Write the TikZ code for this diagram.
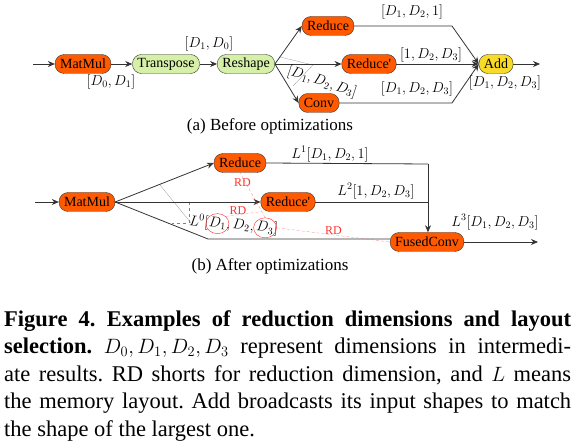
\documentclass[tikz,border=0pt]{standalone}
\usepackage{fontspec}
\setmainfont{Liberation Serif}
\usetikzlibrary{arrows.meta,positioning,shapes.geometric}
\definecolor{opred}{RGB}{255,90,0}
\definecolor{opgreen}{RGB}{214,240,168}
\definecolor{opyellow}{RGB}{248,218,40}
\begin{document}
\begin{tikzpicture}[x = 1pt, y = -1pt,
  op/.style = {draw = black!80, rounded corners = 9pt, minimum height = 19pt,
               inner xsep = 5pt, inner ysep = 0pt, font = \fontsize{14}{16}\selectfont},
  flow/.style = {thick, black!80, -{Stealth[length = 7pt, width = 6pt]}},
  wire/.style = {thick, black!80},
  dim/.style = {font = \fontsize{14}{16}\selectfont, inner sep = 1pt},
  piece/.style = {font = \fontsize{14}{16}\selectfont, inner sep = 0pt, rotate = -5},
  ring/.style = {draw = red!85, ellipse, thin, minimum width = 23pt, minimum height = 20pt},
  rd/.style = {red!60, densely dashed, very thin},
  rdlab/.style = {text = red!80, font = \fontsize{12}{14}\selectfont, inner sep = 0.5pt},
  guide/.style = {gray, very thin},
  sub/.style = {font = \fontsize{17}{20}\selectfont, inner sep = 0pt}]
\useasboundingbox (0, 0) rectangle (576, 446);

% (a) before optimizations
\draw (83, 64) node[op, fill = opred] (mm) {MatMul};
\draw (166, 64) node[op, fill = opgreen] (tr) {Transpose};
\draw (246, 64) node[op, fill = opgreen] (rs) {Reshape};
\draw (328, 26) node[op, fill = opred] (red) {Reduce};
\draw (369, 64) node[op, fill = opred] (redp) {Reduce\textquotesingle};
\draw (319, 103) node[op, fill = opred] (conv) {Conv};
\draw (496, 64) node[op, fill = opyellow] (add) {Add};
\coordinate (ina) at (33, 64);
\coordinate (outa) at (540, 64);
\coordinate (ja1) at (452, 26);
\coordinate (ja2) at (452, 103);
\draw [guide] (280, 57) -- (313, 65) -- (293, 86);
\draw [flow] (ina) to (mm);
\draw [flow] (mm) to (tr);
\draw [flow] (tr) to (rs);
\draw [flow] (rs.east) to (red.west);
\draw [flow] (rs) to (redp);
\draw [flow] (rs.east) to (conv.west);
\draw [flow] (red.east) -- (ja1) -- (add.west);
\draw [flow] (redp) to (add);
\draw [flow] (conv.east) -- (ja2) -- (add.west);
\draw [flow] (add) to (outa);
\node[dim] (dmm) at (111, 82) {$[D_0, D_1]$};
\node[dim] (dtr) at (209, 44) {$[D_1, D_0]$};
\node[dim, rotate = -18] (drs) at (322, 82) {$[D_1, D_2, D_3]$};
\node[dim] (dred) at (412, 12) {$[D_1, D_2, 1]$};
\node[dim] (dredp) at (431, 55) {$[1, D_2, D_3]$};
\node[dim] (dconv) at (417, 89) {$[D_1, D_2, D_3]$};
\node[dim] (dadd) at (505, 83) {$[D_1, D_2, D_3]$};
\node[sub] (capa) at (270, 126) {(a) Before optimizations};

% (b) after optimizations
\draw (87, 202) node[op, fill = opred] (mmb) {MatMul};
\draw (240, 163) node[op, fill = opred] (redb) {Reduce};
\draw (288, 202) node[op, fill = opred] (redpb) {Reduce\textquotesingle};
\draw (427, 242) node[op, fill = opred] (fconv) {FusedConv};
\coordinate (inb) at (35, 202);
\coordinate (outb) at (538, 242);
\coordinate (jb0) at (208, 239);
\coordinate (jb1) at (428, 164);
\coordinate (jb2) at (428, 202);
\draw [guide] (160, 185) -- (191, 223);
\draw [guide, dashed] (189, 202) -- (189, 223) -- (172, 223);
\draw [flow] (inb) to (mmb);
\draw [flow] (mmb.east) to (redb.west);
\draw [flow] (mmb) to (redpb);
\draw [wire] (mmb.east) -- (jb0) -- (fconv.west |- jb0);
\draw [wire] (redb.east) -- (jb1);
\draw [wire] (redpb.east) -- (jb2);
\draw [flow] (jb1) to (fconv.north -| jb1);
\draw [flow] (fconv) to (outb);
\node[dim] (l1) at (330, 154) {$L^1[D_1, D_2, 1]$};
\node[dim] (l2) at (376, 191) {$L^2[1, D_2, D_3]$};
\node[dim] (l3) at (495, 222) {$L^3[D_1, D_2, D_3]$};
\node[piece, anchor = base west] (l0a) at (189, 225) {$L^0[$};
\node[piece, base right = 0pt of l0a] (d1) {$D_1$};
\node[piece, base right = 0pt of d1] (l0b) {$,D_2,\,$};
\node[piece, base right = 0pt of l0b] (d3) {$D_3$};
\node[piece, base right = 0pt of d3] (l0c) {$]$};
\node[ring] (rd1) at (d1) {};
\node[ring] (rd3) at (d3) {};
\draw [rd] (rd1.north east) -- node[rdlab, above, pos = .35] {RD} (redpb.south west);
\draw [rd] (rd3.north) -- node[rdlab, pos = .78, xshift = -3pt] {RD} (redb.south);
\draw [rd] (rd3.east) -- node[rdlab, above, pos = .5] {RD} (fconv.west);
\node[sub] (capb) at (270, 266) {(b) After optimizations};

% caption
\node[anchor = north west, inner sep = 0pt, text width = 567pt, align = justify,
      font = \fontsize{22.5}{27.5}\selectfont\frenchspacing] (cap) at (4, 310)
  {\textbf{Figure 4. Examples of reduction dimensions and layout\linebreak
   selection.} $D_0, D_1, D_2, D_3$ represent dimensions in intermedi-\linebreak
   ate results. RD shorts for reduction dimension, and $L$ means\linebreak
   the memory layout. Add broadcasts its input shapes to match\linebreak
   the shape of the largest one.\par};
\end{tikzpicture}
\end{document}
